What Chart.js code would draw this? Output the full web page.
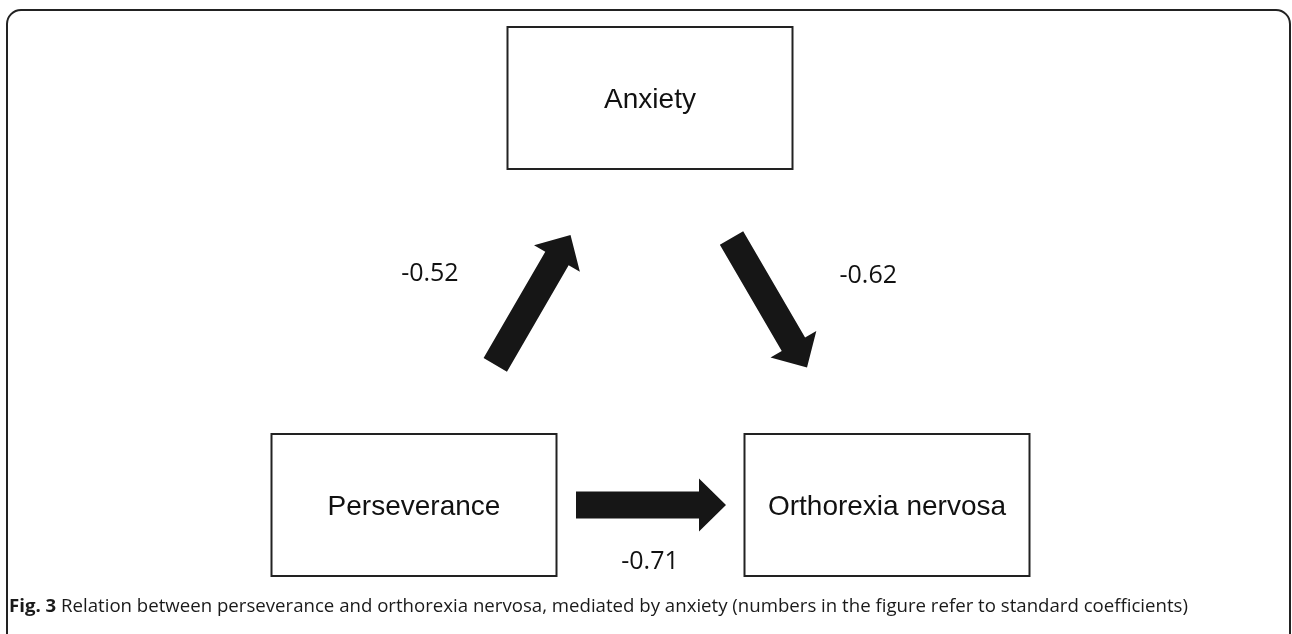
<!DOCTYPE html>
<html lang="en">

<head>
  <meta charset="UTF-8" />
  <title>Fig. 3 Perseverance, anxiety and orthorexia nervosa</title>
  <script src="https://cdn.jsdelivr.net/npm/chart.js@4.4.1/dist/chart.umd.min.js"></script>
  <style>
    body {
      margin: 0;
      background: #fff;
    }

    .chart-container {
      position: relative;
      width: 1292px;
      height: 634px;
    }
  </style>
</head>

<body>
  <div class="chart-container">
    <canvas id="pathDiagram"></canvas>
  </div>
  <script>
    // nodes of the mediation model (diagram units, y grows downward)
    const nodeNames = ["Perseverance", "Anxiety", "Orthorexia nervosa"];
    const nodeX = [414, 650, 887];
    const nodeY = [505, 98, 505];

    // paths: from -> to, standard coefficients
    const pathFrom = [0, 1, 0];
    const pathTo = [1, 2, 2];
    const pathCoef = [-0.52, -0.62, -0.71];

    const captionBold = "Fig. 3";
    const captionText = " Relation between perseverance and orthorexia nervosa, mediated by anxiety (numbers in the figure refer to standard coefficients)";

    // styling
    const boxW = 285, boxH = 142;
    const arrowStart = 162, arrowEnd = 312;   // distance along center-to-center line
    const shaftW = 27, headW = 53, headL = 27;
    const labelOffsets = [[-103, -19], [99, -20], [-1, 64]];
    const ink = "#161616";

    function drawArrow(ctx, x1, y1, x2, y2) {
      const dx = x2 - x1, dy = y2 - y1;
      const len = Math.hypot(dx, dy);
      const ux = dx / len, uy = dy / len;
      const px = -uy, py = ux;
      const bx = x2 - ux * headL, by = y2 - uy * headL;
      ctx.beginPath();
      ctx.moveTo(x1 + px * shaftW / 2, y1 + py * shaftW / 2);
      ctx.lineTo(bx + px * shaftW / 2, by + py * shaftW / 2);
      ctx.lineTo(bx + px * headW / 2, by + py * headW / 2);
      ctx.lineTo(x2, y2);
      ctx.lineTo(bx - px * headW / 2, by - py * headW / 2);
      ctx.lineTo(bx - px * shaftW / 2, by - py * shaftW / 2);
      ctx.lineTo(x1 - px * shaftW / 2, y1 - py * shaftW / 2);
      ctx.closePath();
      ctx.fill();
    }

    const diagramPlugin = {
      id: "diagram",
      afterDatasetsDraw(chart) {
        const ctx = chart.ctx;
        const sx = chart.scales.x, sy = chart.scales.y;
        const H = chart.height;
        ctx.save();

        // outer frame, open at the bottom
        ctx.strokeStyle = "#222";
        ctx.lineWidth = 2;
        const r = 14, l = 7, t = 10, rt = 1290;
        ctx.beginPath();
        ctx.moveTo(l, H + 2);
        ctx.lineTo(l, t + r);
        ctx.arcTo(l, t, l + r, t, r);
        ctx.lineTo(rt - r, t);
        ctx.arcTo(rt, t, rt, t + r, r);
        ctx.lineTo(rt, H + 2);
        ctx.stroke();

        // boxes
        ctx.fillStyle = "#111";
        ctx.font = "28px 'Liberation Sans', Arial, sans-serif";
        ctx.textAlign = "center";
        ctx.textBaseline = "alphabetic";
        nodeNames.forEach((name, i) => {
          const cx = sx.getPixelForValue(nodeX[i]);
          const cy = sy.getPixelForValue(nodeY[i]);
          ctx.strokeRect(cx - boxW / 2, cy - boxH / 2, boxW, boxH);
          ctx.fillText(name, cx, cy + 10);
        });

        // arrows + coefficients
        pathCoef.forEach((coef, i) => {
          const ax = sx.getPixelForValue(nodeX[pathFrom[i]]);
          const ay = sy.getPixelForValue(nodeY[pathFrom[i]]);
          const bx = sx.getPixelForValue(nodeX[pathTo[i]]);
          const by = sy.getPixelForValue(nodeY[pathTo[i]]);
          const len = Math.hypot(bx - ax, by - ay);
          const ux = (bx - ax) / len, uy = (by - ay) / len;
          const x1 = ax + ux * arrowStart, y1 = ay + uy * arrowStart;
          const x2 = ax + ux * arrowEnd, y2 = ay + uy * arrowEnd;
          ctx.fillStyle = ink;
          drawArrow(ctx, x1, y1, x2, y2);

          ctx.fillStyle = "#111";
          ctx.font = "25px 'Open Sans', sans-serif";
          ctx.fillText(coef.toFixed(2), (x1 + x2) / 2 + labelOffsets[i][0], (y1 + y2) / 2 + labelOffsets[i][1]);
        });

        // caption
        ctx.textAlign = "left";
        ctx.fillStyle = "#1a1a1a";
        const capX = 9, capEnd = 1189, capY = 612;
        let size = 16;
        ctx.font = "bold " + size + "px 'Open Sans', sans-serif";
        let w1 = ctx.measureText(captionBold).width;
        ctx.font = size + "px 'Open Sans', sans-serif";
        let w2 = ctx.measureText(captionText).width;
        size = size * (capEnd - capX) / (w1 + w2);
        ctx.font = "bold " + size + "px 'Open Sans', sans-serif";
        w1 = ctx.measureText(captionBold).width;
        ctx.fillText(captionBold, capX, capY);
        ctx.font = size + "px 'Open Sans', sans-serif";
        ctx.fillText(captionText, capX + w1, capY);

        ctx.restore();
      }
    };

    new Chart(document.getElementById("pathDiagram"), {
      type: "scatter",
      data: {
        datasets: [{
          label: "Nodes",
          data: nodeNames.map((_, i) => ({ x: nodeX[i], y: nodeY[i] })),
          pointRadius: 0
        }]
      },
      options: {
        responsive: true,
        maintainAspectRatio: false,
        animation: false,
        events: [],
        layout: { padding: 0 },
        plugins: {
          legend: { display: false },
          tooltip: { enabled: false }
        },
        scales: {
          x: { type: "linear", min: 0, max: 1292, display: false },
          y: { type: "linear", min: 0, max: 634, reverse: true, display: false }
        }
      },
      plugins: [diagramPlugin]
    });
  </script>
</body>

</html>
